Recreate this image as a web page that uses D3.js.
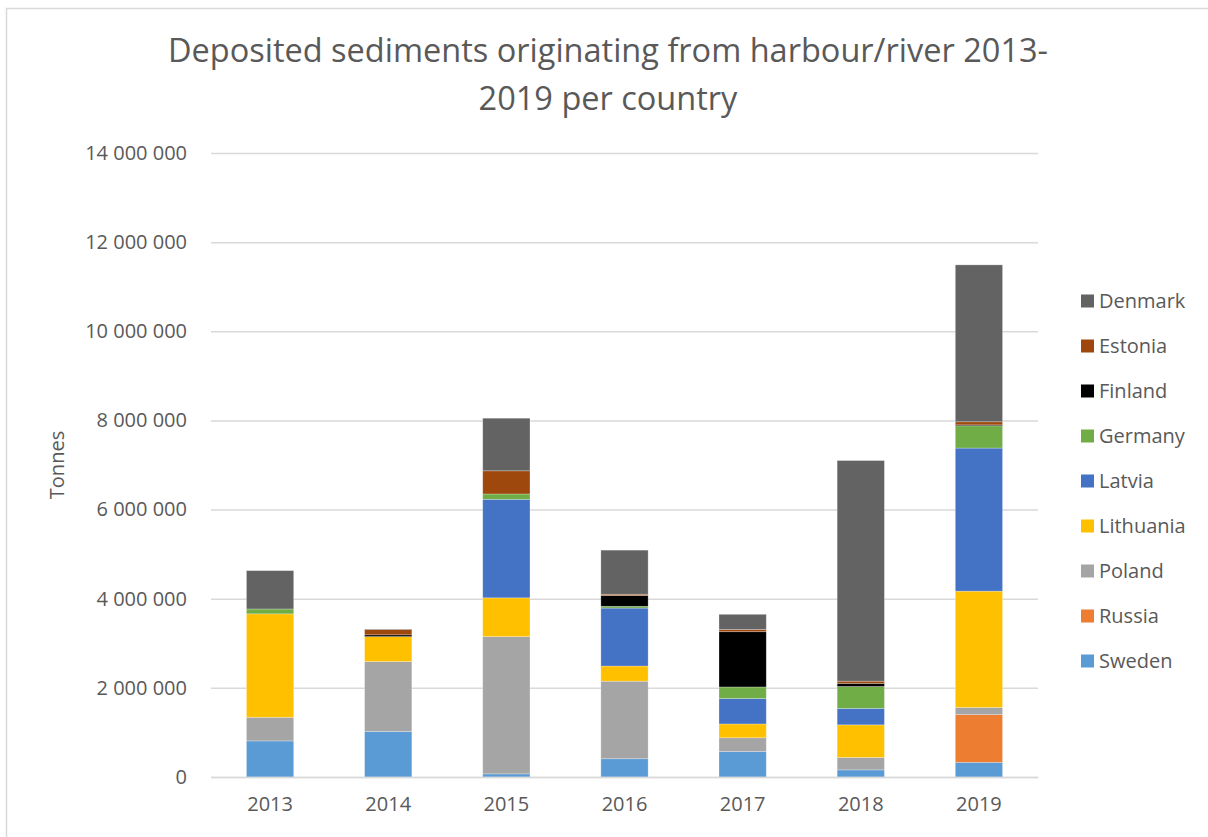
<!DOCTYPE html>
<html>
<head>
<meta charset="utf-8">
<script src="https://cdn.jsdelivr.net/npm/d3@7"></script>
<style>
  html, body { margin: 0; padding: 0; background: #fff; }
  svg { display: block; font-family: "Open Sans", "Noto Sans", sans-serif; }
</style>
</head>
<body>
<svg id="chart" width="1208" height="837"></svg>
<script>
// Deposited sediments (tonnes) per country and year
const years = ["2013", "2014", "2015", "2016", "2017", "2018", "2019"];
const countries = ["Sweden", "Russia", "Poland", "Lithuania", "Latvia", "Germany", "Finland", "Estonia", "Denmark"];

const sweden    = [810000, 1020000,   70000,  410000,  570000,  160000,  330000];
const russia    = [     0,       0,       0,       0,       0,       0, 1070000];
const poland    = [530000, 1570000, 3080000, 1740000,  310000,  280000,  160000];
const lithuania = [2320000, 560000,  870000,  340000,  310000,  730000, 2610000];
const latvia    = [     0,       0, 2210000, 1300000,  570000,  370000, 3210000];
const germany   = [110000,       0,  120000,   40000,  260000,  490000,  500000];
const finland   = [     0,   40000,       0,  240000, 1240000,   70000,   20000];
const estonia   = [     0,  120000,  520000,   30000,   50000,   50000,   70000];
const denmark   = [860000,   10000, 1180000,  990000,  340000, 4950000, 3520000];

const yTicks = [0, 2000000, 4000000, 6000000, 8000000, 10000000, 12000000, 14000000];

const seriesValues = {
  Sweden: sweden, Russia: russia, Poland: poland, Lithuania: lithuania,
  Latvia: latvia, Germany: germany, Finland: finland, Estonia: estonia, Denmark: denmark
};

const colors = {
  Denmark: "#636363", Estonia: "#9E480E", Finland: "#000000", Germany: "#70AD47",
  Latvia: "#4472C4", Lithuania: "#FFC000", Poland: "#A5A5A5", Russia: "#ED7D31", Sweden: "#5B9BD5"
};

const rows = years.map((y, i) => {
  const r = { year: y };
  countries.forEach(c => { r[c] = seriesValues[c][i]; });
  return r;
});

const svg = d3.select("#chart");
const textColor = "#595959";
const gridColor = "#d9d9d9";

// outer frame
svg.append("rect")
  .attr("x", 6.5).attr("y", 8.5)
  .attr("width", 1208).attr("height", 837)
  .attr("fill", "none").attr("stroke", gridColor).attr("stroke-width", 1.5);

const plot = { left: 211, right: 1038, top: 153, bottom: 777 };

const x = d3.scaleBand().domain(years).range([plot.left, plot.right]).paddingInner(0.6).paddingOuter(0.3);
const y = d3.scaleLinear().domain([0, 14000000]).range([plot.bottom, plot.top]);

const fmt = v => d3.format(",")(v).replace(/,/g, " ");

// gridlines + y labels
const yAxis = d3.axisLeft(y).tickValues(yTicks).tickFormat(fmt)
  .tickSize(-(plot.right - plot.left)).tickPadding(24);
const gy = svg.append("g").attr("transform", `translate(${plot.left},0)`).call(yAxis);
gy.select(".domain").remove();
gy.selectAll(".tick line").attr("stroke", gridColor).attr("stroke-width", 1.5);
gy.selectAll(".tick text").attr("fill", textColor).attr("font-size", 20)
  .attr("font-family", "'Open Sans', sans-serif");

// stacked bars
const stack = d3.stack().keys(countries);
const stacked = stack(rows);

svg.append("g").selectAll("g")
  .data(stacked)
  .join("g")
  .attr("fill", d => colors[d.key])
  .selectAll("rect")
  .data(d => d)
  .join("rect")
  .attr("x", d => x(d.data.year))
  .attr("width", x.bandwidth())
  .attr("y", d => y(d[1]))
  .attr("height", d => Math.max(0, y(d[0]) - y(d[1])))
  .attr("stroke", "#ffffff").attr("stroke-opacity", 0.35).attr("stroke-width", 0.75);

// x axis
const xAxis = d3.axisBottom(x).tickSize(0).tickPadding(20);
const gx = svg.append("g").attr("transform", `translate(0,${plot.bottom})`).call(xAxis);
gx.select(".domain").attr("stroke", gridColor).attr("stroke-width", 1.5);
gx.selectAll(".tick text").attr("fill", textColor).attr("font-size", 20)
  .attr("font-family", "'Open Sans', sans-serif");

// y axis title
svg.append("text")
  .attr("transform", "translate(64,465) rotate(-90)")
  .attr("text-anchor", "middle")
  .attr("fill", textColor).attr("font-size", 20)
  .text("Tonnes");

// title
const title = svg.append("text")
  .attr("text-anchor", "middle")
  .attr("fill", textColor).attr("font-size", 32.5);
title.append("tspan").attr("x", 608).attr("y", 62).text("Deposited sediments originating from harbour/river 2013-");
title.append("tspan").attr("x", 608).attr("y", 110).text("2019 per country");

// legend (top to bottom: Denmark ... Sweden)
const legendOrder = countries.slice().reverse();
const legend = svg.append("g");
const item = legend.selectAll("g").data(legendOrder).join("g")
  .attr("transform", (d, i) => `translate(1081,${301 + i * 45})`);
item.append("rect").attr("x", 0).attr("y", -6.5).attr("width", 13).attr("height", 13)
  .attr("fill", d => colors[d]);
item.append("text").attr("x", 18).attr("y", 0).attr("dy", "0.35em")
  .attr("fill", textColor).attr("font-size", 20).text(d => d);
</script>
</body>
</html>
